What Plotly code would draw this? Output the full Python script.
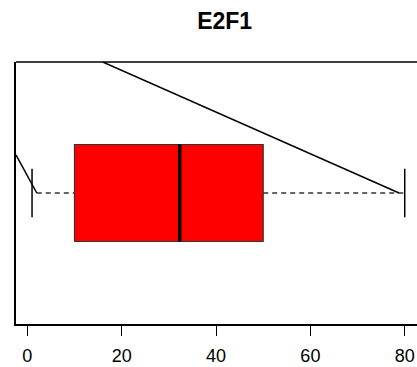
import plotly.graph_objects as go

title = "E2F1"
tick_vals = [0, 20, 40, 60, 80]
tick_text = ["0", "20", "40", "60", "80"]
# box statistics
whisker_low = [1.0]
q1 = [10.0]
median = [32.3]
q3 = [50.0]
whisker_high = [80.0]
# stray line segments over the plot (x, y)
seg1_x = [-2.4, 2.0]
seg1_y = [1.157, 1.0]
seg2_x = [16.0, 78.8]
seg2_y = [1.54, 1.0]

pos = 1.0
half_box = 0.2
half_cap = 0.1

W, H = 417, 367

fig = go.Figure()

# whiskers (dashed)
fig.add_trace(go.Scatter(x=[2.0, q1[0]], y=[pos, pos], mode="lines",
                         line=dict(color="#333333", width=1.3, dash="5px,4px"), hoverinfo="skip"))
fig.add_trace(go.Scatter(x=[q3[0], whisker_high[0]], y=[pos, pos], mode="lines",
                         line=dict(color="#333333", width=1.3, dash="5px,4px"), hoverinfo="skip"))
# caps
for v in (whisker_low[0], whisker_high[0]):
    fig.add_trace(go.Scatter(x=[v, v], y=[pos - half_cap, pos + half_cap], mode="lines",
                             line=dict(color="black", width=1.5), hoverinfo="skip"))
# box
fig.add_trace(go.Scatter(x=[q1[0], q3[0], q3[0], q1[0], q1[0]],
                         y=[pos - half_box, pos - half_box, pos + half_box, pos + half_box, pos - half_box],
                         mode="lines", fill="toself", fillcolor="#ff0000",
                         line=dict(color="#333333", width=1.2), hoverinfo="skip"))
# median
fig.add_trace(go.Scatter(x=[median[0], median[0]], y=[pos - half_box, pos + half_box], mode="lines",
                         line=dict(color="black", width=3.5), hoverinfo="skip"))
# stray segments
fig.add_trace(go.Scatter(x=seg1_x, y=seg1_y, mode="lines", line=dict(color="black", width=1.5),
                         hoverinfo="skip"))
fig.add_trace(go.Scatter(x=seg2_x, y=seg2_y, mode="lines", line=dict(color="black", width=1.5),
                         hoverinfo="skip"))

fig.update_layout(
    width=W, height=H,
    margin=dict(l=16, r=0, t=62, b=43, autoexpand=False),
    paper_bgcolor="white", plot_bgcolor="white",
    showlegend=False,
    title=dict(text="<b>" + title + "</b>", x=217 / W, xanchor="center", xref="paper",
               y=1 - 21 / H, yanchor="middle",
               font=dict(family="Liberation Sans, Arial, sans-serif", size=23, color="black")),
    font=dict(family="Liberation Sans, Arial, sans-serif", color="black"),
)
fig.update_xaxes(range=[-2.4, 82.6], tickvals=tick_vals, ticktext=tick_text,
                 ticks="outside", ticklen=10, tickwidth=1.2, tickcolor="black",
                 showline=True, linecolor="black", linewidth=1.5,
                 showgrid=False, zeroline=False, tickfont=dict(size=18),
                 ticklabelstandoff=5, automargin=False, ticklabeloverflow="allow")
fig.update_yaxes(range=[0.46, 1.54], showticklabels=False, ticks="",
                 showline=True, linecolor="black", linewidth=1.5,
                 showgrid=False, zeroline=False, automargin=False)
# top frame line
fig.add_shape(type="line", xref="paper", yref="paper", x0=0, x1=1, y0=1, y1=1,
              line=dict(color="black", width=1.5))

fig.write_html("out.html",
               config={"displayModeBar": False},
               post_script="document.body.style.margin='0px';document.body.style.overflow='hidden';")
